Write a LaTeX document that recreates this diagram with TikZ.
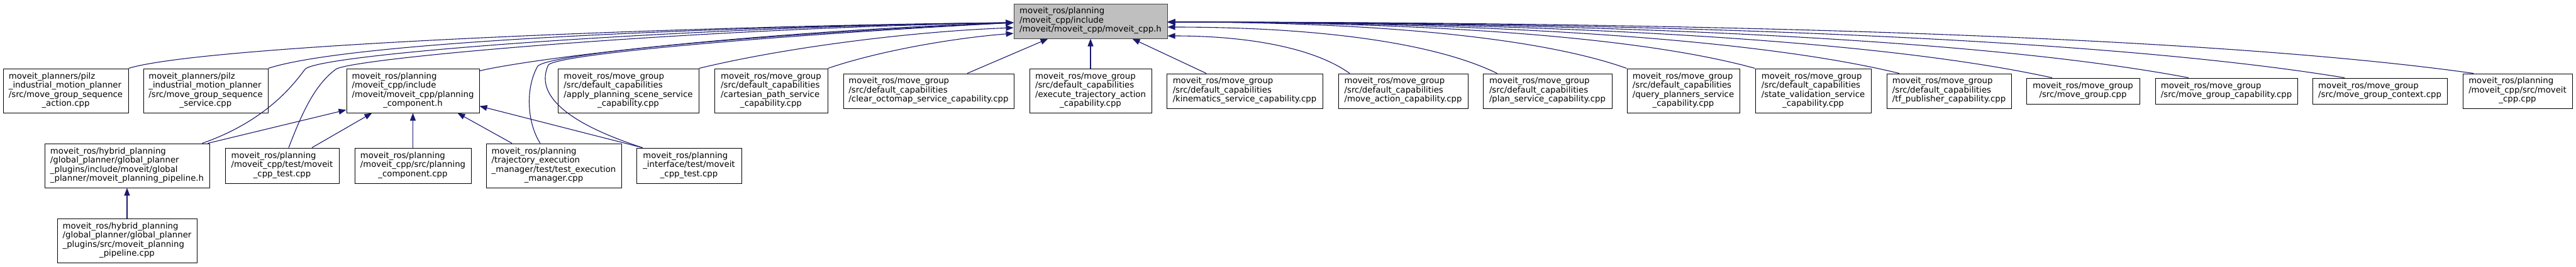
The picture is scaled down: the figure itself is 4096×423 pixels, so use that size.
\documentclass[tikz,border=0pt]{standalone}
\usepackage{fontspec}
\setmainfont{DejaVu Sans}
\usetikzlibrary{arrows.meta}
\definecolor{edgecol}{RGB}{25,25,112}
\definecolor{mainfill}{RGB}{191,191,191}
\definecolor{mainborder}{RGB}{64,64,64}
\newcommand\dtxt[2]{\begin{tabular}{@{}l@{}}#1\\\multicolumn{1}{@{}c@{}}{#2}\end{tabular}}
\newcommand\dnode[7][]{\node[dbox,#1,minimum width={(#5-#3)*1bp},minimum height={(#6-#4)*1bp}] (#2) at ({(#3+#5)/2},{(#4+#6)/2}) {#7};}
\tikzset{
  dbox/.style={draw=black, fill=white, line width=1bp, inner sep=0pt, font=\fontsize{13.33}{14.5}\selectfont},
  mainbox/.style={draw=mainborder, fill=mainfill},
  dep/.style={draw=edgecol, line width=1.1bp, -{Triangle[length=12bp,width=9bp]}}
}
\begin{document}
\begin{tikzpicture}[x=1bp,y=-1bp]
\useasboundingbox[fill=white] (0,0) rectangle (4096,423);
% main node
\dnode[mainbox]{main}{1612}{6}{1856}{61}{\dtxt{moveit\_ros/planning\\/moveit\_cpp/include}{/moveit/moveit\_cpp/moveit\_cpp.h}}
% row 1
\dnode{n1}{5}{109}{204}{179}{\dtxt{moveit\_planners/pilz\\\_industrial\_motion\_planner\\/src/move\_group\_sequence}{\_action.cpp}}
\dnode{n2}{228}{109}{426}{179}{\dtxt{moveit\_planners/pilz\\\_industrial\_motion\_planner\\/src/move\_group\_sequence}{\_service.cpp}}
\dnode{pch}{551}{109}{762}{179}{\dtxt{moveit\_ros/planning\\/moveit\_cpp/include\\/moveit/moveit\_cpp/planning}{\_component.h}}
\dnode{apply}{887}{109}{1111}{179}{\dtxt{moveit\_ros/move\_group\\/src/default\_capabilities\\/apply\_planning\_scene\_service}{\_capability.cpp}}
\dnode{cart}{1136}{109}{1316}{179}{\dtxt{moveit\_ros/move\_group\\/src/default\_capabilities\\/cartesian\_path\_service}{\_capability.cpp}}
\dnode{clear}{1341}{117}{1612}{172}{\dtxt{moveit\_ros/move\_group\\/src/default\_capabilities}{/clear\_octomap\_service\_capability.cpp}}
\dnode{exec}{1637}{109}{1831}{179}{\dtxt{moveit\_ros/move\_group\\/src/default\_capabilities\\/execute\_trajectory\_action}{\_capability.cpp}}
\dnode{kin}{1855}{117}{2103}{172}{\dtxt{moveit\_ros/move\_group\\/src/default\_capabilities}{/kinematics\_service\_capability.cpp}}
\dnode{mact}{2128}{117}{2334}{172}{\dtxt{moveit\_ros/move\_group\\/src/default\_capabilities}{/move\_action\_capability.cpp}}
\dnode{plan}{2358}{117}{2563}{172}{\dtxt{moveit\_ros/move\_group\\/src/default\_capabilities}{/plan\_service\_capability.cpp}}
\dnode{query}{2587}{109}{2766}{179}{\dtxt{moveit\_ros/move\_group\\/src/default\_capabilities\\/query\_planners\_service}{\_capability.cpp}}
\dnode{state}{2791}{109}{2975}{179}{\dtxt{moveit\_ros/move\_group\\/src/default\_capabilities\\/state\_validation\_service}{\_capability.cpp}}
\dnode{tf}{3000}{117}{3198}{172}{\dtxt{moveit\_ros/move\_group\\/src/default\_capabilities}{/tf\_publisher\_capability.cpp}}
\dnode{mg}{3222}{124}{3402}{165}{\dtxt{moveit\_ros/move\_group}{/src/move\_group.cpp}}
\dnode{mgc}{3427}{124}{3653}{165}{\dtxt{moveit\_ros/move\_group}{/src/move\_group\_capability.cpp}}
\dnode{mgx}{3677}{124}{3891}{165}{\dtxt{moveit\_ros/move\_group}{/src/move\_group\_context.cpp}}
\dnode{mcc}{3916}{117}{4090}{172}{\dtxt{moveit\_ros/planning\\/moveit\_cpp/src/moveit}{\_cpp.cpp}}
% row 2
\dnode{hyb}{71}{228}{333}{298}{\dtxt{moveit\_ros/hybrid\_planning\\/global\_planner/global\_planner\\\_plugins/include/moveit/global}{\_planner/moveit\_planning\_pipeline.h}}
\dnode{mct}{358}{235}{539}{291}{\dtxt{moveit\_ros/planning\\/moveit\_cpp/test/moveit}{\_cpp\_test.cpp}}
\dnode{pcc}{564}{235}{749}{291}{\dtxt{moveit\_ros/planning\\/moveit\_cpp/src/planning}{\_component.cpp}}
\dnode{tem}{773}{228}{988}{298}{\dtxt{moveit\_ros/planning\\/trajectory\_execution\\\_manager/test/test\_execution}{\_manager.cpp}}
\dnode{pit}{1012}{235}{1179}{291}{\dtxt{moveit\_ros/planning\\\_interface/test/moveit}{\_cpp\_test.cpp}}
% row 3
\dnode{pip}{91}{347}{313}{417}{\dtxt{moveit\_ros/hybrid\_planning\\/global\_planner/global\_planner\\\_plugins/src/moveit\_planning}{\_pipeline.cpp}}
% ports on main node
\coordinate (L1) at ([yshift=-2.5bp]main.west);
\coordinate (L2) at ([yshift=-10.5bp]main.west);
\coordinate (L3) at ([yshift=-19.5bp]main.west);
\coordinate (R1) at ([yshift=-1.5bp]main.east);
\coordinate (R2) at ([yshift=-9.5bp]main.east);
\coordinate (R3) at ([yshift=-23.5bp]main.east);
% left edges into main
\draw[dep] (n1.north east) .. controls (330,70) and (1150,40) .. (L1);
\draw[dep] (n2.north east) .. controls (560,65) and (1150,42) .. (L1);
\draw[dep] ([xshift=-12bp]hyb.north east) .. controls (430,190) and (473,125) .. (485,110) .. controls (505,85) and (1100,42) .. (L1);
\draw[dep] ([xshift=10.5bp]mct.north) .. controls (480,180) and (500,135) .. (534,110) .. controls (560,92) and (1100,45) .. (L1);
\draw[dep] ([yshift=-4bp]pch.north east) .. controls (850,92) and (1200,50) .. (L1);
\draw[dep] ([xshift=-21.5bp]tem.north) .. controls (838,195) and (835,140) .. (855,105) .. controls (875,85) and (1200,55) .. (L1);
\draw[dep] ([xshift=10bp]pit.north west) .. controls (900,195) and (850,150) .. (872,103) .. controls (890,85) and (1250,55) .. (L1);
\draw[dep] (apply.north east) .. controls (1250,75) and (1450,50) .. (L2);
\draw[dep] (cart.north east) .. controls (1400,80) and (1520,60) .. (L3);
% bottom edges into main
\draw[dep] ([xshift=61.5bp]clear.north) -- ([xshift=55bp]main.south west);
\draw[dep] (exec.north) -- (main.south);
\draw[dep] ([xshift=-61bp]kin.north) -- ([xshift=-56bp]main.south east);
% right edges into main
\draw[dep] ([xshift=-85bp]mact.north) .. controls (2088,75) and (1981,57) .. (R3);
\draw[dep] ([xshift=-80bp]plan.north) .. controls (2275,65) and (2081,43) .. (R2);
\draw[dep] (query.north west) .. controls (2441,57) and (2170,35) .. (R1);
\draw[dep] (state.north west) .. controls (2604,57) and (2258,35) .. (R1);
\draw[dep] ([xshift=-79bp]tf.north) .. controls (2787,60) and (2357,35) .. (R1);
\draw[dep] ([xshift=-49bp]mg.north) .. controls (2982,62) and (2461,35) .. (R1);
\draw[dep] ([xshift=-60bp]mgc.north) .. controls (3155,62) and (2554,35) .. (R1);
\draw[dep] ([xshift=-56bp]mgx.north) .. controls (3354,62) and (2661,35) .. (R1);
\draw[dep] ([xshift=-70bp]mcc.north) .. controls (3533,60) and (2756,35) .. (R1);
% edges into planning_component.h
\draw[dep] ([xshift=-3bp]hyb.north east) -- ([yshift=5bp]pch.south west);
\draw[dep] ([xshift=47.5bp]mct.north) -- ([xshift=41bp]pch.south west);
\draw[dep] (pcc.north) -- (pch.south);
\draw[dep] ([xshift=-66.5bp]tem.north) -- ([xshift=-35bp]pch.south east);
\draw[dep] ([xshift=10bp]pit.north west) -- ([yshift=11bp]pch.south east);
% pipeline
\draw[dep] (pip.north) -- (hyb.south);
\end{tikzpicture}
\end{document}
